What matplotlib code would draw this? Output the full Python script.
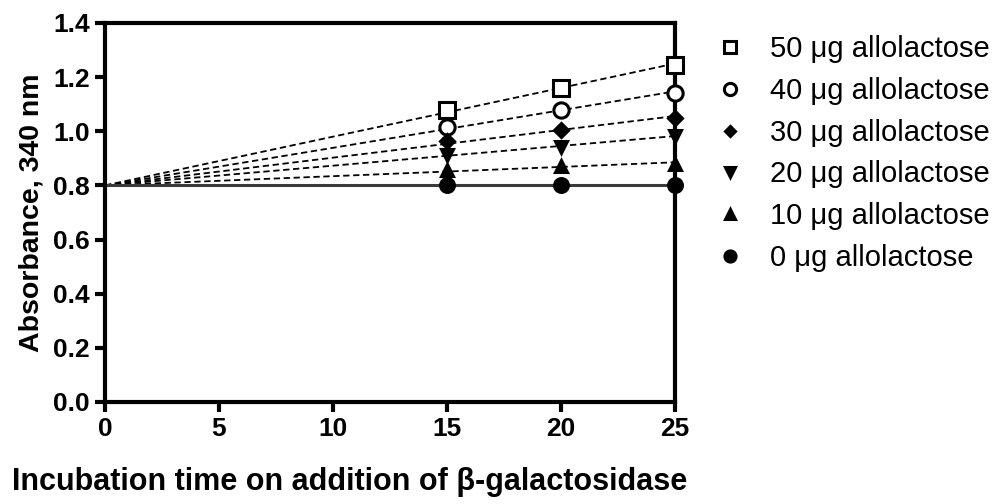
import numpy as np
import matplotlib
matplotlib.use('Agg')
import matplotlib.pyplot as plt

plt.rcParams['font.family'] = ['Liberation Sans', 'DejaVu Sans']

# incubation time (min) and absorbance at 340 nm
time = np.array([15, 20, 25])
labels = ['50 μg allolactose', '40 μg allolactose', '30 μg allolactose',
          '20 μg allolactose', '10 μg allolactose', '0 μg allolactose']
a50 = [1.079, 1.160, 1.245]
a40 = [1.017, 1.079, 1.141]
a30 = [0.964, 1.005, 1.050]
a20 = [0.912, 0.943, 0.983]
a10 = [0.857, 0.872, 0.879]
a0 = [0.800, 0.800, 0.800]
start = 0.8

series = [a50, a40, a30, a20, a10, a0]
markers = ['s', 'o', 'D', 'v', '^', 'o']
filled = [False, False, True, True, True, True]
msizes = [11, 11, 7, 9, 9, 10]

fig = plt.figure(figsize=(10.08, 5.04), dpi=100)
ax = fig.add_axes([0.1042, 0.2024, 0.5654, 0.752])

t_fit = np.linspace(0, 25, 50)
for i, y in enumerate(series):
    y = np.array(y)
    # fit through the common starting absorbance
    k = np.sum(time*(y-start))/np.sum(time**2)
    if i == len(series)-1:
        ax.plot(t_fit, start+k*t_fit, '-', color='#3a3a3a', lw=2.2, zorder=2, clip_on=False)
    else:
        ax.plot(t_fit, start+k*t_fit, '--', color='black', lw=1.3, dashes=(3.5, 2), zorder=2, clip_on=False)
    fc = 'black' if filled[i] else 'white'
    ax.plot(time, y, linestyle='none', marker=markers[i], ms=msizes[i], mfc=fc,
            mec='black', mew=2.2, label=labels[i], zorder=3, clip_on=False)

ax.set_xlim(0, 25)
ax.set_ylim(0, 1.4)
ax.set_xticks([0, 5, 10, 15, 20, 25])
ax.set_yticks(np.arange(0, 1.41, 0.2))
ax.set_yticklabels(['%.1f' % v for v in np.arange(0, 1.41, 0.2)])
for s in ax.spines.values():
    s.set_linewidth(3)
ax.tick_params(width=3, length=7, labelsize=19, pad=4)
for lab in ax.get_xticklabels() + ax.get_yticklabels():
    lab.set_fontweight('bold')

ax.set_xlabel('Incubation time on addition of β-galactosidase', fontsize=22,
              fontweight='bold', va='center')
ax.xaxis.set_label_coords(0.43, -0.211)
ax.set_ylabel('Absorbance, 340 nm', fontsize=20.5, fontweight='bold', labelpad=6)

leg = ax.legend(loc='upper left', bbox_to_anchor=(0.684, 0.982), bbox_transform=fig.transFigure,
                frameon=False, fontsize=21, handlelength=1.0, handletextpad=0.85,
                labelspacing=0.47, markerscale=0.8)

plt.savefig('out.png', dpi=100)
